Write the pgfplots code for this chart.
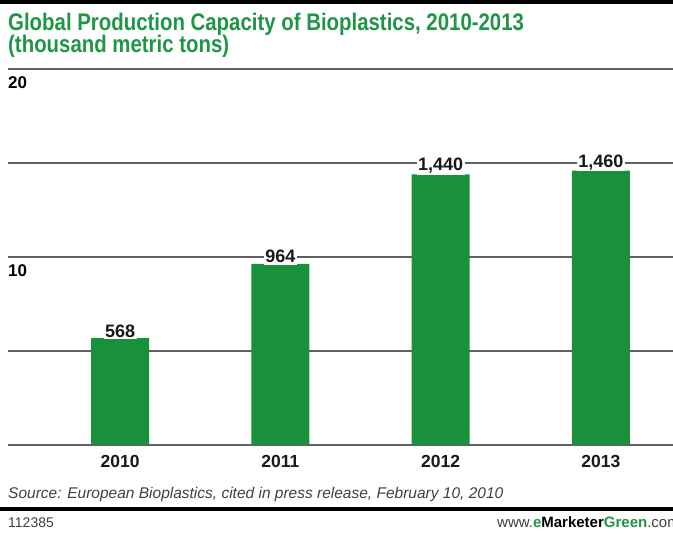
\documentclass[border=0pt]{standalone}
\usepackage{pgfplots}
\pgfplotsset{compat=1.18}
\usepackage{fontspec}
\setmainfont{Liberation Sans}
\newfontfamily\condfont[FakeStretch=0.85]{Liberation Sans}
\definecolor{emgreen}{RGB}{24,145,58}
\definecolor{titlegreen}{RGB}{30,150,70}
\definecolor{gridgray}{RGB}{95,95,95}
\begin{document}
\begin{tikzpicture}
\path[use as bounding box,fill=white] (0pt,0pt) rectangle (673pt,534pt);
\fill[black] (0pt,530pt) rectangle (673pt,534pt);
\node[anchor=base west,inner sep=0,text=titlegreen,font=\condfont\bfseries\fontsize{24}{24}\selectfont] at (8pt,503pt) {Global Production Capacity of Bioplastics, 2010-2013};
\node[anchor=base west,inner sep=0,text=titlegreen,font=\condfont\bfseries\fontsize{24}{24}\selectfont] at (8pt,481pt) {(thousand metric tons)};
\begin{axis}[
  at={(8pt,89pt)}, anchor=south west,
  scale only axis, width=665pt, height=376pt,
  xmin=-0.699, xmax=3.45, ymin=0, ymax=20,
  axis line style={draw=none},
  ytick={0,5,10,15,20}, ymajorgrids,
  grid style={gridgray,line width=1.1pt},
  xtick={0,1,2,3}, xticklabels={2010,2011,2012,2013},
  xticklabel style={font=\bfseries\fontsize{17.5}{17.5}\selectfont,text=black!90,yshift=-7pt},
  major tick length=0pt,
  yticklabels={},
  ybar, bar width=58pt,
  nodes near coords={\pgfplotspointmeta},
  point meta=explicit symbolic,
  every node near coord/.append style={font=\bfseries\fontsize{18}{18}\selectfont,fill=white,inner sep=1.5pt,text=black!90,anchor=south,yshift=-1pt},
  clip=false,
]
\addplot[fill=emgreen,draw=none] coordinates {(0,5.68) [568] (1,9.64) [964] (2,14.40) [1,440] (3,14.60) [1,460]};
\node[anchor=north west,inner sep=0,font=\bfseries\fontsize{17}{17}\selectfont] at (axis cs:-0.699,19.6) {20};
\node[anchor=north west,inner sep=0,font=\bfseries\fontsize{17}{17}\selectfont] at (axis cs:-0.699,9.6) {10};
\end{axis}
\node[anchor=base west,inner sep=0,text=black!75,font=\itshape\fontsize{15.5}{15.5}\selectfont] at (8pt,35pt) {Source: European Bioplastics, cited in press release, February 10, 2010};
\fill[black] (0pt,23pt) rectangle (673pt,27pt);
\node[anchor=base west,inner sep=0,text=black!75,font=\fontsize{14}{14}\selectfont] at (8pt,6pt) {112385};
\begin{scope}
\clip (0pt,0pt) rectangle (673pt,534pt);
\node[anchor=base west,inner sep=0,text=black!75,font=\fontsize{15}{15}\selectfont] at (497pt,6pt) {www.{\bfseries\color{titlegreen}e}{\bfseries\color{black}Marketer}{\bfseries\color{titlegreen}Green}.com};
\end{scope}
\end{tikzpicture}
\end{document}
